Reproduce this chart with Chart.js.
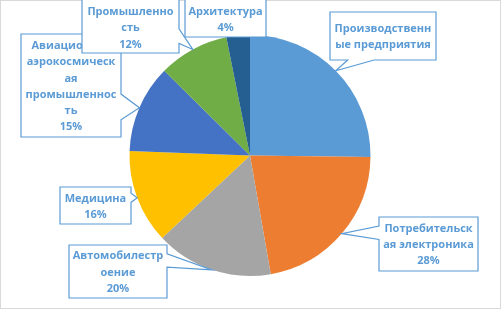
<!DOCTYPE html>
<html>
<head>
<meta charset="utf-8">
<script src="https://cdn.jsdelivr.net/npm/chart.js@4"></script>
<style>
  html, body { margin: 0; padding: 0; background: #fff; }
  #chart { display: block; }
</style>
</head>
<body>
<canvas id="chart" width="502" height="311"></canvas>
<script>
// data
const categories = ['Производственные предприятия', 'Потребительская электроника', 'Автомобилестроение',
  'Медицина', 'Авиационная аэрокосмическая промышленность', 'Промышленность', 'Архитектура'];
const shares = [32, 28, 20, 16, 15, 12, 4];
// wrapped label text, as it shows in the callouts
const labelLines = [
  ['Производственн', 'ые предприятия'],
  ['Потребительск', 'ая электроника'],
  ['Автомобилестр', 'оение'],
  ['Медицина'],
  ['Авиационная', 'аэрокосмическ', 'ая', 'промышленнос', 'ть'],
  ['Промышленно', 'сть'],
  ['Архитектура']
];
const showValue = [false, true, true, true, true, true, true];
const colors = ['#5B9BD5', '#ED7D31', '#A5A5A5', '#FFC000', '#4472C4', '#70AD47', '#255E91'];

// callout boxes (x, y, w, h); ty = first line offset from box top when text is not centred
const boxes = [
  { x: 330, y: 12, w: 106, h: 48 },
  { x: 379, y: 217, w: 99, h: 54 },
  { x: 69, y: 245, w: 98, h: 53 },
  { x: 60, y: 187, w: 71, h: 37 },
  { x: 21, y: 34, w: 100, h: 103 },
  { x: 82, y: -5, w: 97, h: 58, ty: 17 },
  { x: 185, y: -5, w: 81, h: 42, ty: 16.7 }
];

const BLUE = '#5B9BD5';
const LINE_H = 16.2;

function calloutPath(ctx, b, tx, ty) {
  const x = b.x, y = b.y, w = b.w, h = b.h;
  const cx = x + w / 2, cy = y + h / 2;
  const inside = tx >= x && tx <= x + w && ty >= y && ty <= y + h;
  const horiz = Math.abs(tx - cx) / w > Math.abs(ty - cy) / h;
  const bx = tx < cx ? [x + w / 6, x + 5 * w / 12] : [x + 7 * w / 12, x + 5 * w / 6];
  const by = ty < cy ? [y + h / 6, y + 5 * h / 12] : [y + 7 * h / 12, y + 5 * h / 6];
  ctx.beginPath();
  ctx.moveTo(x, y);
  if (!inside && !horiz && ty < cy) {
    ctx.lineTo(bx[0], y); ctx.lineTo(tx, ty); ctx.lineTo(bx[1], y);
  }
  ctx.lineTo(x + w, y);
  if (!inside && horiz && tx > cx) {
    ctx.lineTo(x + w, by[0]); ctx.lineTo(tx, ty); ctx.lineTo(x + w, by[1]);
  }
  ctx.lineTo(x + w, y + h);
  if (!inside && !horiz && ty > cy) {
    ctx.lineTo(bx[1], y + h); ctx.lineTo(tx, ty); ctx.lineTo(bx[0], y + h);
  }
  ctx.lineTo(x, y + h);
  if (!inside && horiz && tx < cx) {
    ctx.lineTo(x, by[1]); ctx.lineTo(tx, ty); ctx.lineTo(x, by[0]);
  }
  ctx.closePath();
}

const frame = {
  id: 'frame',
  beforeDraw(chart) {
    const ctx = chart.ctx;
    ctx.save();
    ctx.fillStyle = '#fff';
    ctx.fillRect(0, 0, chart.width, chart.height);
    ctx.strokeStyle = '#D9D9D9';
    ctx.lineWidth = 1;
    ctx.strokeRect(0.5, 0.5, 500, 308);
    ctx.restore();
  }
};

const callouts = {
  id: 'callouts',
  afterDatasetsDraw(chart) {
    const ctx = chart.ctx;
    const meta = chart.getDatasetMeta(0);
    ctx.save();
    meta.data.forEach((arc, i) => {
      const p = arc.getProps(['x', 'y', 'startAngle', 'endAngle', 'outerRadius'], true);
      const mid = (p.startAngle + p.endAngle) / 2;
      const tx = p.x + Math.cos(mid) * p.outerRadius;
      const ty = p.y + Math.sin(mid) * p.outerRadius;
      const b = boxes[i];
      calloutPath(ctx, b, tx, ty);
      ctx.fillStyle = '#fff';
      ctx.fill();
      ctx.strokeStyle = BLUE;
      ctx.lineWidth = 1.2;
      ctx.stroke();

      const lines = labelLines[i].slice();
      if (showValue[i]) lines.push(shares[i] + '%');
      ctx.fillStyle = BLUE;
      ctx.font = 'bold 11px "Open Sans"';
      ctx.textAlign = 'center';
      ctx.textBaseline = 'middle';
      const first = b.ty !== undefined ? b.y + b.ty : b.y + b.h / 2 + 1 - (lines.length - 1) * LINE_H / 2;
      lines.forEach((s, k) => ctx.fillText(s, b.x + b.w / 2, first + k * LINE_H));
    });
    ctx.restore();
  }
};

new Chart(document.getElementById('chart'), {
  type: 'pie',
  data: {
    labels: categories,
    datasets: [{
      data: shares,
      backgroundColor: colors,
      borderWidth: 0
    }]
  },
  options: {
    responsive: false,
    animation: false,
    devicePixelRatio: 1,
    layout: { padding: { top: 35, bottom: 35, left: 0, right: 2 } },
    plugins: {
      legend: { display: false },
      tooltip: { enabled: false }
    }
  },
  plugins: [frame, callouts]
});
</script>
</body>
</html>
